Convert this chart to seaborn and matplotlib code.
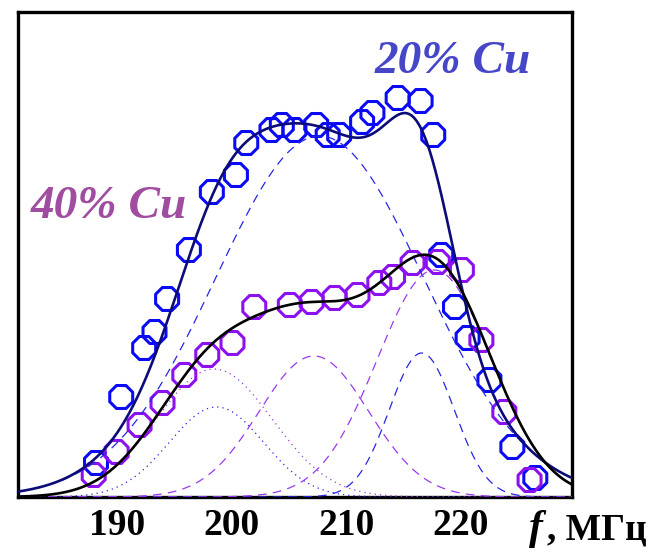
import numpy as np
import pandas as pd
import matplotlib
matplotlib.use("Agg")
import matplotlib.pyplot as plt
import seaborn as sns

# ---- measured points: frequency (MHz) and intensity (a.u.) ----
f20 = [188.2, 190.4, 192.4, 193.3, 194.4, 196.3, 198.3, 200.4, 201.3, 203.5, 204.4, 205.5, 207.4,
       208.4, 209.4, 211.4, 212.3, 214.5, 216.5, 217.6, 218.3, 219.5, 220.6, 222.5, 224.5, 226.5]
i20 = [34, 100, 149, 165, 198, 247, 305, 322, 354, 367, 372, 367, 372,
       362, 362, 375, 384, 399, 396, 362, 242, 190, 159, 117, 50, 19]
f40 = [188.0, 190.0, 192.0, 194.0, 195.9, 197.9, 200.1, 202.0, 205.1, 207.0,
       209.0, 211.0, 212.9, 214.1, 215.8, 218.0, 220.1, 221.8, 223.8, 226.0]
i40 = [22, 45, 72, 94, 122, 142, 154, 190, 192, 195,
       199, 202, 214, 220, 234, 235, 227, 157, 85, 17]

# ---- fit components (centre MHz, height a.u., width MHz) ----
c20 = [207.7, 216.6, 198.7]
h20 = [361.0, 144.0, 90.0]
w20 = [9.07, 2.83, 4.12]
style20 = ["dash", "dash", "dot"]

c40 = [198.5, 207.2, 217.7]
h40 = [128.0, 141.0, 227.0]
w40 = [5.08, 4.78, 4.98]
style40 = ["dot", "dash", "dash"]

xticks = [190, 200, 210, 220]
xlim = (181.4, 229.7)

sns.set_style("white")
plt.rcParams["font.family"] = ["Liberation Serif", "DejaVu Serif"]
plt.rcParams["text.color"] = "black"
plt.rcParams["xtick.color"] = "black"

fig = plt.figure(figsize=(6.67, 5.54), dpi=100)
ax = fig.add_axes([18 / 667, 57 / 554, 554 / 667, 485 / 554])

fgrid = np.linspace(xlim[0], xlim[1], 500)


def comp(c, h, w):
    return h * np.exp(-0.5 * ((fgrid - c) / w) ** 2)


# data points
sns.scatterplot(x=f20, y=i20, ax=ax, marker="8", s=320, linewidth=2.2, zorder=2)
ax.collections[-1].set_facecolor("none")
ax.collections[-1].set_edgecolor("#0A0AF5")
sns.scatterplot(x=f40, y=i40, ax=ax, marker="8", s=320, linewidth=2.2, zorder=2)
ax.collections[-1].set_facecolor("none")
ax.collections[-1].set_edgecolor("#8C10F0")

dash_pat = (0, (7, 5))
dot_pat = (0, (1, 3.2))


def draw(y, color, lw, pat, z):
    n = len(ax.lines)
    sns.lineplot(x=fgrid, y=y, ax=ax, color=color, linewidth=lw, estimator=None, zorder=z)
    for ln in ax.lines[n:]:
        ln.set_linestyle(pat)


tot20 = np.zeros_like(fgrid)
for c, h, w, st in zip(c20, h20, w20, style20):
    y = comp(c, h, w)
    tot20 += y
    draw(y, "#2626E6", 0.9, dash_pat if st == "dash" else dot_pat, 3)
tot40 = np.zeros_like(fgrid)
for c, h, w, st in zip(c40, h40, w40, style40):
    y = comp(c, h, w)
    tot40 += y
    draw(y, "#9A3AF0" if st == "dash" else "#9A40D0", 0.9, dash_pat if st == "dash" else dot_pat, 3)

draw(tot20, "#0C0C78", 1.9, "-", 4)
draw(tot40, "#000000", 1.9, "-", 5)

ax.set_xlim(*xlim)
ax.set_ylim(0, 485)
ax.set_xticks(xticks)
ax.set_xticklabels([str(t) for t in xticks], fontsize=27, fontweight="bold", color="black")
ax.set_yticks([])
ax.tick_params(axis="x", direction="in", length=9, width=1.3, pad=8,
               color="black", labelcolor="black")
ax.set_xlabel("")
ax.set_ylabel("")
for sp in ax.spines.values():
    sp.set_visible(True)
    sp.set_linewidth(2.4)
    sp.set_color("black")

ax.text(212.5, 424, "20% Cu", fontsize=34, fontweight="bold", fontstyle="italic",
        color="#4646C8", ha="left", va="baseline")
ax.text(182.5, 279, "40% Cu", fontsize=34, fontweight="bold", fontstyle="italic",
        color="#A04CA0", ha="left", va="baseline")

fig.text(529 / 667, (554 - 539) / 554, "f", fontsize=30, fontweight="bold",
         fontstyle="italic", ha="left", va="baseline", color="black")
fig.text(547 / 667, (554 - 539) / 554, ", МГц", fontsize=27, fontweight="bold",
         ha="left", va="baseline", color="black")

fig.savefig("out.png", dpi=100)
